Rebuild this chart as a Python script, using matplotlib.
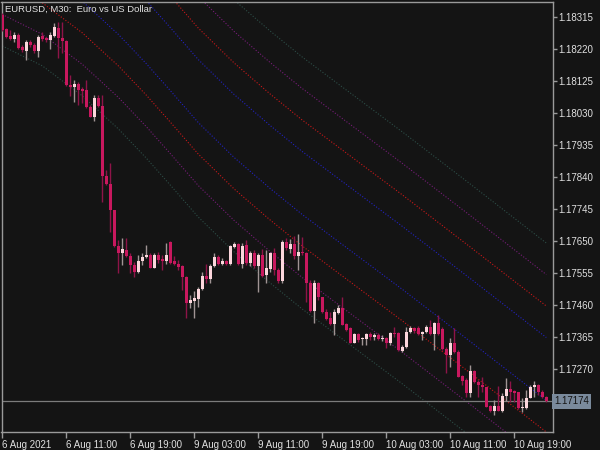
import matplotlib
matplotlib.use('Agg')
import matplotlib.pyplot as plt
import matplotlib.transforms as mtransforms
import numpy as np

# EURUSD M30 bars, 6 Aug 2021 03:00 .. 10 Aug 2021 20:00
opens = [
    1.18321, 1.18279, 1.18259, 1.18250, 1.18262, 1.18226, 1.18214, 1.18241, 1.18232, 1.18214,
    1.18259, 1.18253, 1.18247, 1.18259, 1.18282, 1.18253, 1.18244, 1.18113, 1.18107, 1.18116,
    1.18101, 1.18098, 1.18048, 1.18018, 1.18075, 1.18051, 1.17843, 1.17819, 1.17742, 1.17635,
    1.17614, 1.17623, 1.17605, 1.17579, 1.17558, 1.17591, 1.17603, 1.17608, 1.17570, 1.17608,
    1.17597, 1.17591, 1.17647, 1.17591, 1.17582, 1.17576, 1.17543, 1.17466, 1.17472, 1.17478,
    1.17507, 1.17546, 1.17537, 1.17576, 1.17603, 1.17582, 1.17591, 1.17582, 1.17632, 1.17641,
    1.17582, 1.17638, 1.17585, 1.17614, 1.17576, 1.17608, 1.17549, 1.17567, 1.17614, 1.17564,
    1.17531, 1.17647, 1.17626, 1.17641, 1.17605, 1.17617, 1.17614, 1.17525, 1.17442, 1.17525,
    1.17484, 1.17439, 1.17421, 1.17404, 1.17436, 1.17451, 1.17404, 1.17392, 1.17347, 1.17374,
    1.17359, 1.17359, 1.17374, 1.17365, 1.17371, 1.17359, 1.17362, 1.17347, 1.17377, 1.17377,
    1.17323, 1.17335, 1.17380, 1.17392, 1.17392, 1.17374, 1.17380, 1.17395, 1.17374, 1.17407,
    1.17389, 1.17329, 1.17312, 1.17347, 1.17320, 1.17249, 1.17237, 1.17199, 1.17264, 1.17231,
    1.17223, 1.17217, 1.17160, 1.17145, 1.17160, 1.17145, 1.17190, 1.17211, 1.17205, 1.17202,
    1.17154, 1.17154, 1.17184, 1.17217, 1.17223, 1.17202, 1.17187,
]
highs = [
    1.18327, 1.18282, 1.18276, 1.18270, 1.18268, 1.18232, 1.18247, 1.18247, 1.18238, 1.18262,
    1.18270, 1.18256, 1.18270, 1.18297, 1.18300, 1.18300, 1.18247, 1.18143, 1.18128, 1.18122,
    1.18107, 1.18128, 1.18054, 1.18083, 1.18083, 1.18083, 1.17861, 1.17882, 1.17742, 1.17653,
    1.17659, 1.17659, 1.17614, 1.17588, 1.17608, 1.17614, 1.17638, 1.17614, 1.17614, 1.17617,
    1.17608, 1.17644, 1.17650, 1.17605, 1.17594, 1.17579, 1.17546, 1.17490, 1.17502, 1.17513,
    1.17558, 1.17582, 1.17582, 1.17614, 1.17608, 1.17600, 1.17594, 1.17638, 1.17647, 1.17644,
    1.17644, 1.17653, 1.17620, 1.17623, 1.17614, 1.17626, 1.17623, 1.17617, 1.17629, 1.17570,
    1.17653, 1.17659, 1.17656, 1.17665, 1.17671, 1.17662, 1.17617, 1.17534, 1.17534, 1.17528,
    1.17484, 1.17448, 1.17439, 1.17448, 1.17460, 1.17484, 1.17407, 1.17395, 1.17377, 1.17377,
    1.17365, 1.17377, 1.17380, 1.17377, 1.17377, 1.17371, 1.17365, 1.17380, 1.17395, 1.17380,
    1.17341, 1.17395, 1.17398, 1.17395, 1.17398, 1.17383, 1.17401, 1.17415, 1.17410, 1.17430,
    1.17395, 1.17335, 1.17362, 1.17392, 1.17326, 1.17252, 1.17243, 1.17282, 1.17267, 1.17237,
    1.17246, 1.17217, 1.17163, 1.17178, 1.17220, 1.17199, 1.17243, 1.17235, 1.17208, 1.17202,
    1.17184, 1.17208, 1.17223, 1.17235, 1.17226, 1.17208, 1.17190,
]
lows = [
    1.18273, 1.18253, 1.18247, 1.18241, 1.18220, 1.18211, 1.18187, 1.18226, 1.18208, 1.18196,
    1.18244, 1.18241, 1.18220, 1.18256, 1.18193, 1.18208, 1.18110, 1.18080, 1.18063, 1.18054,
    1.18060, 1.18045, 1.18018, 1.18006, 1.18048, 1.17766, 1.17816, 1.17677, 1.17632, 1.17555,
    1.17579, 1.17603, 1.17555, 1.17543, 1.17555, 1.17579, 1.17600, 1.17570, 1.17570, 1.17585,
    1.17564, 1.17582, 1.17582, 1.17579, 1.17564, 1.17505, 1.17421, 1.17451, 1.17421, 1.17454,
    1.17505, 1.17525, 1.17525, 1.17573, 1.17579, 1.17579, 1.17579, 1.17579, 1.17629, 1.17579,
    1.17570, 1.17579, 1.17576, 1.17570, 1.17499, 1.17543, 1.17525, 1.17558, 1.17549, 1.17525,
    1.17525, 1.17623, 1.17614, 1.17597, 1.17564, 1.17608, 1.17469, 1.17439, 1.17407, 1.17475,
    1.17436, 1.17415, 1.17401, 1.17371, 1.17433, 1.17401, 1.17383, 1.17347, 1.17347, 1.17350,
    1.17341, 1.17341, 1.17356, 1.17356, 1.17356, 1.17353, 1.17332, 1.17341, 1.17365, 1.17323,
    1.17320, 1.17332, 1.17377, 1.17377, 1.17371, 1.17356, 1.17377, 1.17371, 1.17326, 1.17371,
    1.17326, 1.17258, 1.17276, 1.17318, 1.17246, 1.17223, 1.17187, 1.17187, 1.17228, 1.17187,
    1.17202, 1.17157, 1.17142, 1.17133, 1.17145, 1.17142, 1.17175, 1.17172, 1.17172, 1.17151,
    1.17142, 1.17151, 1.17184, 1.17187, 1.17193, 1.17184, 1.17172,
]
closes = [
    1.18276, 1.18256, 1.18250, 1.18262, 1.18223, 1.18217, 1.18241, 1.18232, 1.18214, 1.18256,
    1.18250, 1.18247, 1.18262, 1.18285, 1.18253, 1.18244, 1.18113, 1.18107, 1.18116, 1.18098,
    1.18095, 1.18048, 1.18018, 1.18075, 1.18051, 1.17843, 1.17819, 1.17742, 1.17635, 1.17614,
    1.17626, 1.17605, 1.17579, 1.17558, 1.17591, 1.17603, 1.17608, 1.17570, 1.17608, 1.17594,
    1.17591, 1.17608, 1.17585, 1.17582, 1.17573, 1.17543, 1.17466, 1.17475, 1.17481, 1.17507,
    1.17546, 1.17537, 1.17576, 1.17603, 1.17582, 1.17591, 1.17582, 1.17635, 1.17641, 1.17582,
    1.17635, 1.17585, 1.17614, 1.17576, 1.17608, 1.17546, 1.17570, 1.17614, 1.17564, 1.17531,
    1.17647, 1.17629, 1.17641, 1.17605, 1.17617, 1.17614, 1.17525, 1.17442, 1.17525, 1.17484,
    1.17439, 1.17418, 1.17404, 1.17439, 1.17451, 1.17401, 1.17386, 1.17347, 1.17374, 1.17356,
    1.17362, 1.17374, 1.17365, 1.17371, 1.17359, 1.17362, 1.17347, 1.17377, 1.17374, 1.17326,
    1.17335, 1.17380, 1.17392, 1.17383, 1.17374, 1.17380, 1.17395, 1.17374, 1.17407, 1.17374,
    1.17329, 1.17312, 1.17347, 1.17320, 1.17246, 1.17234, 1.17199, 1.17264, 1.17231, 1.17223,
    1.17217, 1.17157, 1.17145, 1.17160, 1.17145, 1.17190, 1.17211, 1.17202, 1.17199, 1.17154,
    1.17157, 1.17184, 1.17217, 1.17223, 1.17202, 1.17187, 1.17174,
]

# regression channel: middle line read at some bars, bands at +-1..4 steps
center_idx = [0, 10, 20, 29, 36, 42, 49, 58, 67, 75, 84, 100, 117, 136]
center_price = [1.18603, 1.18544, 1.18455, 1.18357, 1.18270, 1.18190, 1.18095,
                1.17991, 1.17899, 1.17822, 1.17742, 1.17600, 1.17445, 1.17270]
band_step = 0.000935
band_levels = [1, 2, 3, 4]
band_colors = ['#2222c0', '#c81818', '#761c78', '#2c4c46']

price_ticks = [1.18315, 1.18220, 1.18125, 1.18030, 1.17935, 1.17840,
               1.17745, 1.17650, 1.17555, 1.17460, 1.17365, 1.17270]
time_idx = [0, 16, 32, 48, 64, 80, 96, 112, 128]
time_labels = ['6 Aug 2021', '6 Aug 11:00', '6 Aug 19:00', '9 Aug 03:00', '9 Aug 11:00',
               '9 Aug 19:00', '10 Aug 03:00', '10 Aug 11:00', '10 Aug 19:00']
last_price = 1.17174

BG = '#141414'
FG = '#e0e0e0'
GRID = '#9a9a9a'

plt.rcParams['font.family'] = ['Liberation Sans', 'DejaVu Sans']

fig = plt.figure(figsize=(6, 4.5), dpi=100, facecolor=BG)
ax = fig.add_axes([1.5 / 600, 18 / 450, 551 / 600, 430 / 450], facecolor=BG)

o = np.array(opens)
h = np.array(highs)
l = np.array(lows)
c = np.array(closes)
x = np.arange(len(c))
up = c > o

body_lo = np.minimum(o, c)
body_h = np.maximum(np.abs(c - o), 0.000025)

# channel lines
for lev, col in zip(band_levels, band_colors):
    for sgn in (1, -1):
        ax.plot(center_idx, np.array(center_price) + sgn * lev * band_step,
                color=col, lw=0.8, ls=(0, (1, 1.6)), zorder=1)

ax.axhline(last_price, color='#7c7c7c', lw=0.9, zorder=2)

# candles
ax.vlines(x[up], l[up], h[up], color='#a09494', lw=1, zorder=3)
ax.vlines(x[~up], l[~up], h[~up], color='#8e1448', lw=1, zorder=3)
ax.bar(x[up], body_h[up], 0.72, bottom=body_lo[up], color='#fcd6dc', lw=0, zorder=4)
ax.bar(x[~up], body_h[~up], 0.72, bottom=body_lo[~up], color='#c8185e', lw=0, zorder=4)

ax.set_xlim(-0.2, 137.55)
ax.set_ylim(1.170830, 1.183595)

for sp in ax.spines.values():
    sp.set_color(GRID)
    sp.set_linewidth(1)

ax.yaxis.tick_right()
ax.set_yticks(price_ticks)
ax.set_yticklabels([f'{p:.5f}' for p in price_ticks])
ax.tick_params(axis='y', colors=GRID, labelcolor=FG, labelsize=7, length=3, width=1, pad=1)

ax.set_xticks(time_idx)
ax.set_xticklabels(time_labels, ha='left')
ax.tick_params(axis='x', colors=GRID, labelcolor=FG, labelsize=7, length=4, width=1, pad=2)

# current price tag
trans = mtransforms.blended_transform_factory(ax.transAxes, ax.transData)
ax.text(1.003, last_price, f'{last_price:.5f}', transform=trans, ha='left', va='center',
        fontsize=7, color='#141414', clip_on=False,
        bbox=dict(boxstyle='square,pad=0.25', fc='#7a8a9c', ec='none'))

fig.text(5 / 600, 1 - 9 / 450, 'EURUSD, M30:  Euro vs US Dollar', color=FG,
         fontsize=6.8, va='center', ha='left')

fig.savefig('out.png', dpi=100, facecolor=BG)
